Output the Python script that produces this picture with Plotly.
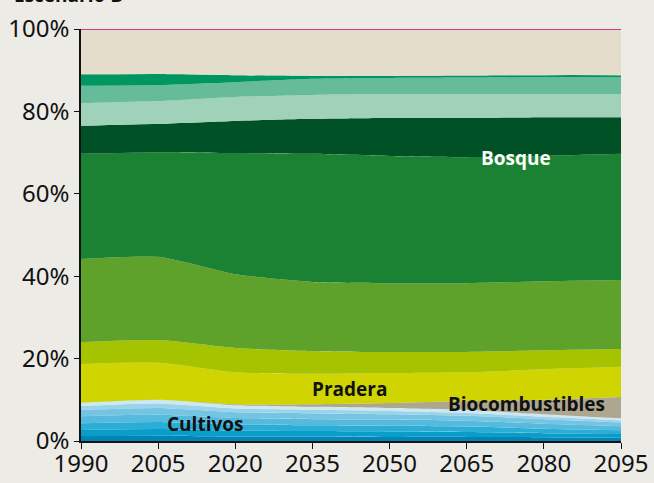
import plotly.graph_objects as go

years = [1990, 2005, 2020, 2035, 2050, 2065, 2080, 2095]

# Cultivos: stacked blue bands, darkest at the bottom
cultivos_1 = [1.2, 1.3, 1.1, 1.1, 1.0, 1.0, 0.9, 0.8]
cultivos_2 = [1.5, 1.6, 1.4, 1.3, 1.3, 1.2, 1.0, 0.9]
cultivos_3 = [1.6, 1.7, 1.5, 1.4, 1.4, 1.3, 1.1, 0.9]
cultivos_4 = [1.7, 1.8, 1.6, 1.5, 1.5, 1.4, 1.2, 1.0]
cultivos_5 = [1.5, 1.6, 1.4, 1.4, 1.3, 1.2, 1.1, 0.9]
cultivos_6 = [1.0, 1.1, 0.9, 0.9, 0.8, 0.7, 0.6, 0.5]
cultivos_7 = [0.8, 0.9, 0.8, 0.7, 0.7, 0.7, 0.6, 0.5]

biocombustibles = [0.0, 0.0, 0.2, 0.6, 1.2, 2.2, 3.5, 5.2]
pradera = [9.4, 9.0, 7.8, 7.4, 7.3, 7.0, 7.4, 7.3]
pradera_2 = [5.3, 5.5, 5.9, 5.5, 5.1, 4.9, 4.6, 4.3]
bosque_1 = [20.2, 20.2, 17.9, 16.8, 16.7, 16.7, 16.8, 16.8]
bosque_2 = [25.5, 25.4, 29.4, 31.1, 30.9, 30.6, 30.4, 30.6]
bosque_3 = [6.8, 6.9, 7.8, 8.5, 9.2, 9.5, 9.4, 8.9]
otros_1 = [5.5, 5.5, 5.8, 5.8, 5.8, 5.8, 5.6, 5.6]
otros_2 = [4.2, 3.9, 3.6, 3.9, 3.9, 4.0, 4.1, 4.1]
otros_3 = [2.8, 2.7, 1.7, 0.7, 0.5, 0.5, 0.5, 0.5]
resto = [11.0, 10.9, 11.2, 11.4, 11.4, 11.3, 11.2, 11.2]

layers = [
    (cultivos_1, "#0086B6"),
    (cultivos_2, "#0B9DC9"),
    (cultivos_3, "#2AADD6"),
    (cultivos_4, "#55BADD"),
    (cultivos_5, "#74C5E3"),
    (cultivos_6, "#9AD3EA"),
    (cultivos_7, "#CBE9F3"),
    (biocombustibles, "#ADA78F"),
    (pradera, "#D0D400"),
    (pradera_2, "#A6C300"),
    (bosque_1, "#5EA22C"),
    (bosque_2, "#1A8232"),
    (bosque_3, "#005226"),
    (otros_1, "#A0D2BA"),
    (otros_2, "#66BC98"),
    (otros_3, "#009661"),
    (resto, "#E4DDCB"),
]

fig = go.Figure()
for vals, col in layers:
    fig.add_trace(go.Scatter(
        x=years, y=vals, stackgroup="uso", mode="lines",
        line=dict(width=0, shape="spline", smoothing=0.6),
        fillcolor=col, hoverinfo="skip", showlegend=False,
    ))

# magenta reference line at 100 %
fig.add_shape(type="line", xref="x", yref="y", x0=1990, x1=2095, y0=100, y1=100,
              line=dict(color="#D6006E", width=1.5))

label_font = dict(family="Open Sans, Noto Sans, sans-serif", size=19, weight=700)
labels = [
    ("Bosque", 2074.6, 68.7, "white"),
    ("Pradera", 2042.3, 12.6, "#111111"),
    ("Biocombustibles", 2076.7, 9.0, "#111111"),
    ("Cultivos", 2014.1, 4.1, "#111111"),
]
for txt, x, y, c in labels:
    fig.add_annotation(x=x, y=y, text=txt, showarrow=False,
                       font=dict(label_font, color=c))

fig.add_annotation(xref="paper", yref="paper", x=-0.128, y=1.082, xanchor="left",
                   yanchor="middle", text="Escenario B", showarrow=False,
                   font=dict(family="Open Sans, sans-serif", size=19, weight=700,
                             color="#111111"))

tick_font = dict(family="Noto Sans, Open Sans, sans-serif", size=24, color="#111111")
fig.update_xaxes(range=[1990, 2095], tickvals=years, ticktext=[str(y) for y in years],
                 showgrid=False, zeroline=False, showline=True, linecolor="#111111",
                 linewidth=1.5, ticks="outside", ticklen=6, tickcolor="#111111",
                 tickfont=tick_font, automargin=False, ticklabelstandoff=-6)
fig.update_yaxes(range=[0, 100], tickvals=[0, 20, 40, 60, 80, 100],
                 ticktext=["0%", "20%", "40%", "60%", "80%", "100%"],
                 showgrid=False, zeroline=False, showline=True, linecolor="#111111",
                 linewidth=1.5, ticks="outside", ticklen=5, tickcolor="#111111",
                 tickfont=tick_font, automargin=False)

fig.update_layout(
    width=654, height=483,
    margin=dict(l=81, r=33, t=29, b=42),
    paper_bgcolor="#ECEBE6", plot_bgcolor="#ECEBE6",
)

fig.write_html("out.html")
